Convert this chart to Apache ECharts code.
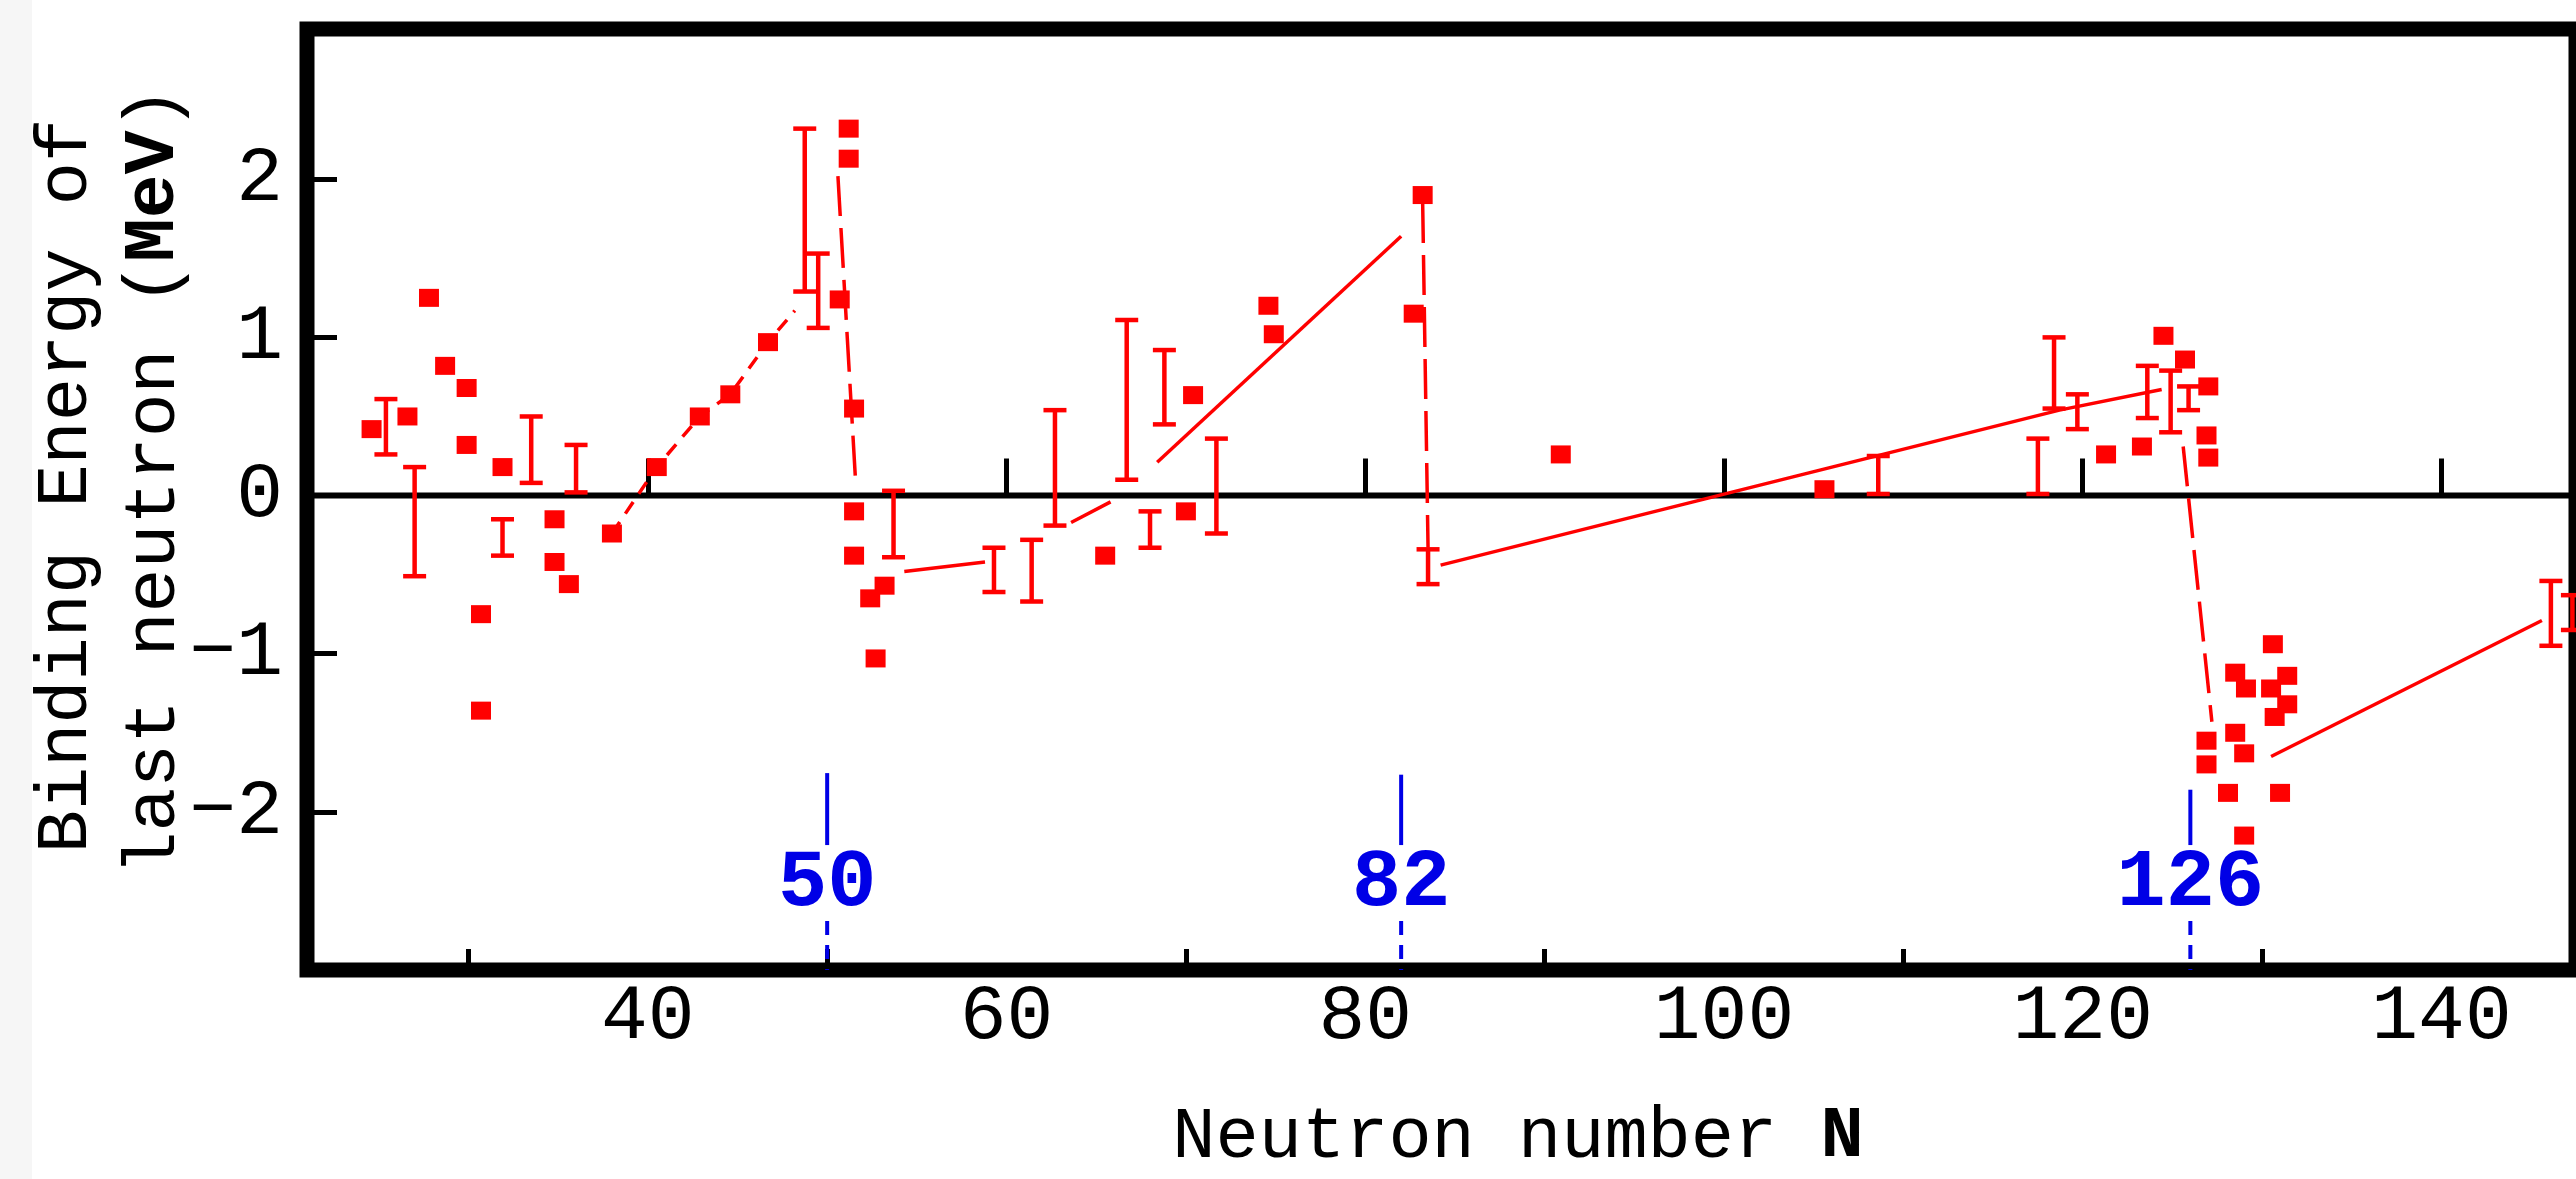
<!DOCTYPE html>
<html>
<head>
<meta charset="utf-8">
<title>Binding energy of last neutron</title>
<script src="https://cdn.jsdelivr.net/npm/echarts@6/dist/echarts.min.js"></script>
<style>
  html, body { margin: 0; padding: 0; background: #ffffff; }
  #chart { width: 2576px; height: 1179px; }
</style>
</head>
<body>
<div id="chart"></div>
<script>
// Individual nuclei: neutron number and binding energy of last neutron (MeV)
const squareN = [24.6, 26.6, 27.8, 28.7, 29.9, 29.9, 30.7, 30.7, 31.9, 34.8, 34.8, 35.6,
  38.0, 40.5, 42.9, 44.6, 46.7, 50.7, 51.2, 51.2, 51.5, 51.5, 51.5, 53.2, 52.4, 52.7,
  65.5, 70.0, 70.4, 74.6, 74.9, 82.7, 83.2, 90.9, 105.6, 121.3, 123.3, 124.5, 125.7,
  127.0, 126.9, 127.0, 126.9, 126.9, 128.5, 129.1, 128.5, 129.0, 128.1, 129.0,
  130.6, 131.4, 130.5, 131.4, 130.7, 131.0];
const squareE = [0.42, 0.50, 1.25, 0.82, 0.68, 0.32, -0.75, -1.36, 0.18, -0.15, -0.42, -0.56,
  -0.24, 0.18, 0.50, 0.64, 0.97, 1.24, 2.32, 2.13, 0.55, -0.10, -0.38, -0.57, -0.65, -1.03,
  -0.38, -0.10, 0.635, 1.20, 1.02, 1.15, 1.90, 0.26, 0.04, 0.26, 0.31, 1.01, 0.86,
  0.69, 0.38, 0.24, -1.55, -1.70, -1.12, -1.22, -1.50, -1.63, -1.88, -2.15,
  -0.94, -1.14, -1.22, -1.32, -1.40, -1.88];

// Averaged values with uncertainty ranges: N, lower, upper (MeV)
const barN = [25.4, 27.0, 31.9, 33.5, 36.0, 48.75, 49.5, 53.7, 59.3, 61.4, 62.7, 66.7,
  68.0, 68.8, 71.7, 83.5, 108.6, 117.5, 118.4, 119.7, 123.6, 124.9, 125.9, 146.1, 147.3];
const barLow = [0.26, -0.51, -0.38, 0.08, 0.02, 1.29, 1.06, -0.39, -0.61, -0.67, -0.19, 0.10,
  -0.33, 0.45, -0.24, -0.56, 0.01, 0.01, 0.55, 0.42, 0.49, 0.40, 0.54, -0.95, -0.85];
const barHigh = [0.61, 0.18, -0.15, 0.50, 0.32, 2.32, 1.53, 0.03, -0.33, -0.28, 0.54, 1.11,
  -0.10, 0.92, 0.36, -0.34, 0.25, 0.36, 1.00, 0.64, 0.82, 0.79, 0.69, -0.54, -0.63];

// Trend segments between shell closures: [N, MeV]
const trendA = [[38.0, -0.24], [40.5, 0.18], [42.9, 0.50], [44.6, 0.64], [46.7, 0.97], [48.2, 1.17]];
const dropA = [[50.6, 2.02], [51.6, 0.06]];
const trendB = [[54.3, -0.48], [58.8, -0.42]];
const trendC = [[63.6, -0.17], [65.8, -0.04]];
const trendD = [[68.4, 0.21], [82.0, 1.64]];
const dropB = [[83.2, 1.85], [83.5, -0.33]];
const trendE = [[84.2, -0.44], [118.7, 0.54], [124.4, 0.67]];
const dropC = [[125.6, 0.31], [127.2, -1.43]];
const trendF = [[130.5, -1.65], [145.6, -0.79]];

// Magic neutron numbers and where their marker lines start
const magicN = [50, 82, 126];
const magicTop = [-1.755, -1.765, -1.86];

// Axis ticks
const xTickLabels = [40, 60, 80, 100, 120, 140];
const xMinorTicks = [30, 50, 70, 90, 110, 130];
const yTickLabels = [-2, -1, 0, 1, 2];
const yTicks = [-2, -1, 1, 2];

const RED = '#ff0000';
const BLUE = '#0000e6';
const MONO = '"Liberation Mono", "DejaVu Sans Mono", monospace';

const chart = echarts.init(document.getElementById('chart'), null, { renderer: 'canvas' });

// Vertical range with flat caps at both ends
function renderBar(params, api) {
  const n = api.value(0);
  const lo = api.coord([n, api.value(1)]);
  const hi = api.coord([n, api.value(2)]);
  const cap = 11.5;
  const style = { stroke: RED, lineWidth: 4.5 };
  return {
    type: 'group',
    children: [
      { type: 'line', shape: { x1: lo[0], y1: lo[1], x2: hi[0], y2: hi[1] }, style },
      { type: 'line', shape: { x1: lo[0] - cap, y1: lo[1], x2: lo[0] + cap, y2: lo[1] }, style },
      { type: 'line', shape: { x1: hi[0] - cap, y1: hi[1], x2: hi[0] + cap, y2: hi[1] }, style }
    ]
  };
}

// Shell-closure marker: solid line, number, dashed lead down to the axis
function renderMagic(params, api) {
  const n = api.value(0);
  const top = api.coord([n, api.value(1)]);
  const solidEnd = api.coord([n, -2.21]);
  const dashStart = api.coord([n, -2.69]);
  const axisEnd = api.coord([n, -3]);
  const mid = api.coord([n, -2.46]);
  return {
    type: 'group',
    children: [
      { type: 'line', shape: { x1: top[0], y1: top[1], x2: solidEnd[0], y2: solidEnd[1] },
        style: { stroke: BLUE, lineWidth: 4 } },
      { type: 'line', shape: { x1: dashStart[0], y1: dashStart[1], x2: axisEnd[0], y2: axisEnd[1] },
        style: { stroke: BLUE, lineWidth: 4, lineDash: [14, 10] } },
      { type: 'text', x: mid[0], y: mid[1],
        style: { text: String(n), align: 'center', verticalAlign: 'middle',
          font: 'bold 82px ' + MONO, fill: BLUE } }
    ]
  };
}

function trend(data, dash) {
  return {
    type: 'line', data: data, showSymbol: false, symbol: 'none', silent: true, z: 3,
    lineStyle: { color: RED, width: 3.5, type: dash || 'solid' }
  };
}

const option = {
  animation: false,
  backgroundColor: '#ffffff',
  grid: {
    left: 307, top: 29, width: 2271, height: 941,
    show: true, borderColor: '#000', borderWidth: 15, backgroundColor: '#ffffff'
  },
  xAxis: [
    {
      type: 'value', min: 21, max: 147.5, position: 'bottom',
      axisLine: { show: false },
      splitLine: { show: false },
      axisTick: { show: true, inside: true, length: 37, customValues: xTickLabels,
        lineStyle: { color: '#000', width: 5 } },
      axisLabel: { show: true, customValues: xTickLabels, margin: 8,
        fontFamily: MONO, fontSize: 78, color: '#000' }
    },
    {
      type: 'value', min: 21, max: 147.5, position: 'bottom',
      axisLine: { show: false },
      splitLine: { show: false },
      axisTick: { show: true, inside: true, length: 21, customValues: xMinorTicks,
        lineStyle: { color: '#000', width: 5 } },
      axisLabel: { show: false }
    }
  ],
  yAxis: {
    type: 'value', min: -3, max: 2.95, interval: 1,
    axisLine: { show: false },
    splitLine: { show: false },
    axisTick: { show: true, inside: true, length: 30, customValues: yTicks,
      lineStyle: { color: '#000', width: 5 } },
    axisLabel: { show: true, customValues: yTickLabels, margin: 24,
      fontFamily: MONO, fontSize: 78, color: '#000',
      formatter: v => String(v).replace('-', '\u2212') }
  },
  graphic: [
    { type: 'rect', z: -10, shape: { x: 0, y: 0, width: 32, height: 1179 },
      style: { fill: '#f6f6f6' } },
    { type: 'text', x: 67, y: 486, rotation: Math.PI / 2,
      style: { text: 'Binding Energy of', align: 'center', verticalAlign: 'middle',
        font: '72px ' + MONO, fill: '#000' } },
    { type: 'text', x: 155, y: 481, rotation: Math.PI / 2,
      style: { text: '{a|last neutron (}{b|MeV}{a|)}', align: 'center', verticalAlign: 'middle',
        rich: {
          a: { fontFamily: MONO, fontSize: 73, fill: '#000' },
          b: { fontFamily: MONO, fontSize: 73, fontWeight: 'bold', fill: '#000' }
        } } },
    { type: 'text', x: 1518, y: 1138,
      style: { text: '{a|Neutron number }{b|N}', align: 'center', verticalAlign: 'middle',
        rich: {
          a: { fontFamily: MONO, fontSize: 72, fill: '#000' },
          b: { fontFamily: MONO, fontSize: 72, fontWeight: 'bold', fill: '#000' }
        } } }
  ],
  series: [
    {
      type: 'line', data: [[21, 0], [147.5, 0]], showSymbol: false, symbol: 'none', silent: true, z: 1,
      lineStyle: { color: '#000', width: 6 }
    },
    trend(trendA, [14, 10]),
    trend(dropA, [40, 12]),
    trend(trendB),
    trend(trendC),
    trend(trendD),
    trend(dropB, [40, 12]),
    trend(trendE),
    trend(dropC, [40, 12]),
    trend(trendF),
    {
      type: 'custom', renderItem: renderBar, z: 4, clip: true,
      data: barN.map((n, i) => [n, barLow[i], barHigh[i]]),
      encode: { x: 0, y: [1, 2] }
    },
    {
      type: 'scatter', symbol: 'rect', symbolSize: [20, 18], z: 5,
      itemStyle: { color: RED, opacity: 1 },
      data: squareN.map((n, i) => [n, squareE[i]])
    },
    {
      type: 'custom', renderItem: renderMagic, z: 6,
      data: magicN.map((n, i) => [n, magicTop[i]]),
      encode: { x: 0, y: 1 }
    }
  ]
};

chart.setOption(option);
</script>
</body>
</html>
